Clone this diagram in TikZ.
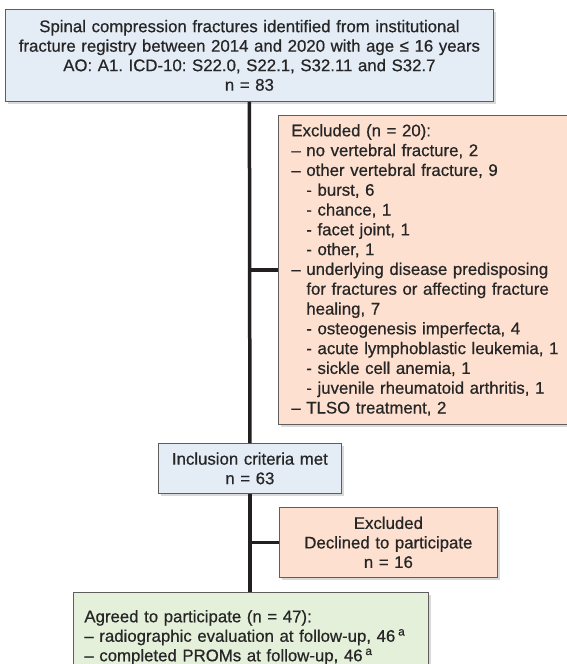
\documentclass[tikz,border=0pt]{standalone}
\usepackage{fontspec}
\setmainfont{Liberation Sans}[BoldFont=Liberation Sans, BoldFeatures={FakeBold=0.6}]
\usetikzlibrary{shadows}

\definecolor{bluefill}{HTML}{E4ECF6}
\definecolor{peachfill}{HTML}{FDE0CF}
\definecolor{greenfill}{HTML}{E4F0DA}
\definecolor{boxline}{HTML}{5E5E5E}
\definecolor{trunkcol}{HTML}{231F20}

\newcommand{\ind}{\phantom{– }}
\frenchspacing

\begin{document}
\begin{tikzpicture}[x=1pt, y=-1pt,
            box/.style = {draw=boxline, line width=0.8pt, inner ysep=0pt,
                drop shadow={shadow xshift=2.5pt, shadow yshift=-3pt, opacity=0.3},
                text=black!85, font=\fontsize{16.8}{19.5}\selectfont\bfseries},
            trunk/.style = {draw=trunkcol, line width=3.5pt}]
                \useasboundingbox (0,0) rectangle (566,664);

                \node[box, fill=bluefill, anchor=north west, inner xsep=0pt,
                      minimum width=488pt, minimum height=92pt,
                      text width=488pt, align=center] (registry) at (5,9)
                      {Spinal compression fractures identified from institutional\\
                       fracture registry between 2014 and 2020 with age ≤ 16 years\\
                       AO: A1. ICD-10: S22.0, S22.1, S32.11 and S32.7\\
                       n = 83};

                \node[box, fill=peachfill, anchor=north west, inner xsep=13pt,
                      minimum height=309pt, text width=290pt, align=left,
                      font=\fontsize{16.8}{19.8}\selectfont\bfseries] (excl1) at (278,115)
                      {Excluded (n = 20):\\
                       – no vertebral fracture, 2\\
                       – other vertebral fracture, 9\\
                       \ind- burst, 6\\
                       \ind- chance, 1\\
                       \ind- facet joint, 1\\
                       \ind- other, 1\\
                       – underlying disease predisposing\\
                       \ind for fractures or affecting fracture\\
                       \ind healing, 7\\
                       \ind- osteogenesis imperfecta, 4\\
                       \ind- acute lymphoblastic leukemia, 1\\
                       \ind- sickle cell anemia, 1\\
                       \ind- juvenile rheumatoid arthritis, 1\\
                       – TLSO treatment, 2};

                \node[box, fill=bluefill, anchor=north west, inner xsep=0pt,
                      minimum width=183pt, minimum height=50pt,
                      text width=183pt, align=center] (included) at (158,443)
                      {Inclusion criteria met\\ n = 63};

                \node[box, fill=peachfill, anchor=north west, inner xsep=0pt,
                      minimum width=218pt, minimum height=70pt,
                      text width=218pt, align=center] (excl2) at (279,507)
                      {Excluded\\ Declined to participate\\ n = 16};

                \node[box, fill=greenfill, anchor=north west, inner xsep=11pt,
                      minimum height=90pt, text width=333pt, align=left] (agreed) at (73,592)
                      {Agreed to participate (n = 47):\\
                       – radiographic evaluation at follow-up, 46\,\textsuperscript{a}\\
                       – completed PROMs at follow-up, 46\,\textsuperscript{a}\\[19pt]};

                \coordinate (split1) at (registry.south |- excl1.west);
                \coordinate (split2) at (included.south |- excl2.west);

                \draw[trunk] (registry.south) -- (included.north);
                \draw[trunk] (included.south) -- (included.south |- agreed.north);
                \draw[trunk] (split1) -- (excl1.west);
                \draw[trunk] (split2) -- (excl2.west);
        \end{tikzpicture}
\end{document}
